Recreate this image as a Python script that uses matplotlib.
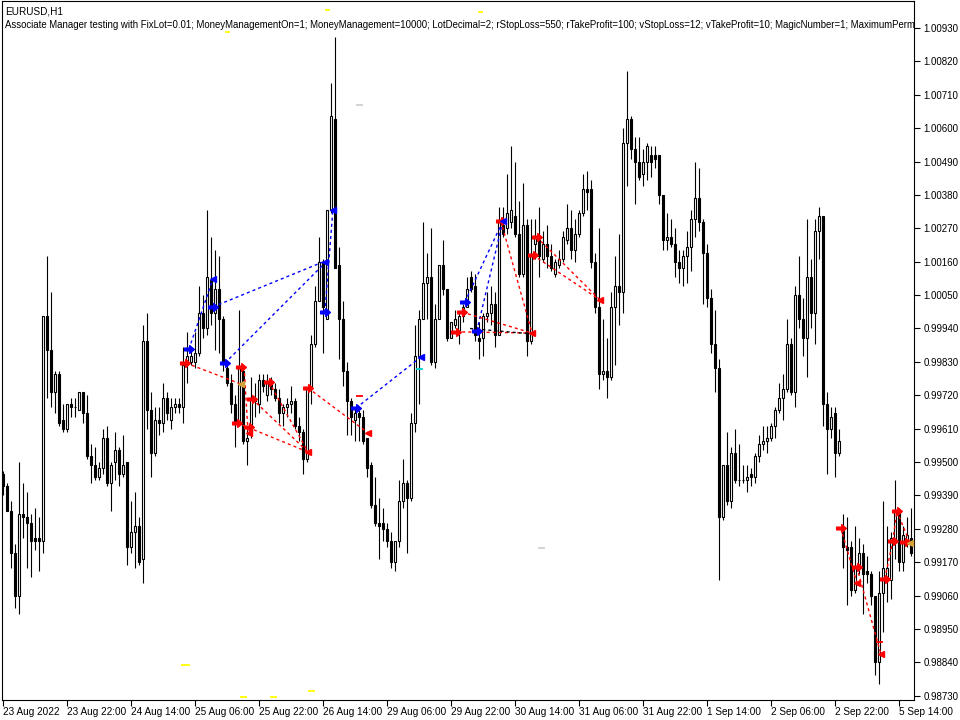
import numpy as np
import matplotlib
matplotlib.use("Agg")
import matplotlib.pyplot as plt
from matplotlib.path import Path

# EURUSD H1 bars, 23 Aug 2022 06:00 -> 5 Sep 2022 (bar index on x)
opens = [
    .9946, .9942, .9934, .9920, .9906, .9933, .9932, .9930, .9925, .9925, .9924, .9998,
    .9987, .9973, .9979, .9964, .9961, .9969, .9968, .9967, .9973, .9966, .9952, .9949,
    .9945, .9948, .9958, .9943, .9950, .9954, .9946, .9950, .9922, .9927, .9929, .9918,
    .9990, .9967, .9953, .9964, .9963, .9971, .9964, .9968, .9969, .9968, .9983, .9983,
    .9983, .9986, .9999, .9994, 1.0010, .9999, 1.0007, .9997, .9981, .9976, .9969, .9963,
    .9980, .9957, .9960, .9971, .9969, .9977, .9972, .9976, .9974, .9971, .9966, .9968,
    .9969, .9970, .9962, .9960, .9951, .9974, .9989, 1.0003, 1.0016, .9997, 1.0033, 1.0063,
    1.0015, .9997, .9980, .9970, .9964, .9966, .9965, .9958, .9949, .9936, .9930, .9930,
    .9928, .9924, .9917, .9924, .9937, .9943, .9938, .9963, .9985, .9997, 1.0009, 1.0011,
    .9983, .9997, 1.0015, 1.0007, .9991, .9995, .9993, .9998, 1.0001, 1.0011, 1.0008, .9991,
    .9991, .9998, .9999, 1.0002, .9992, 1.0028, 1.0027, 1.0029, 1.0031, 1.0025, 1.0012, 1.0028,
    .9990, 1.0022, 1.0023, 1.0017, 1.0022, 1.0018, 1.0012, 1.0015, 1.0017, 1.0023, 1.0027, 1.0020,
    1.0025, 1.0032, 1.0040, 1.0040, 1.0016, 1.0001, .9979, .9980, .9978, 1.0001, 1.0008, 1.0006,
    1.0055, 1.0063, 1.0053, 1.0049, 1.0045, 1.0049, 1.0051, 1.0051, 1.0051, 1.0038, 1.0023, 1.0024,
    1.0022, 1.0016, 1.0014, 1.0018, 1.0021, 1.0030, 1.0037, 1.0029, 1.0019, 1.0004, .9989, .9981,
    .9932, .9949, .9937, .9953, .9944, .9944, .9944, .9946, .9945, .9952, .9956, .9957,
    .9958, .9962, .9967, .9971, .9974, .9989, .9973, 1.0005, .9997, .9991, 1.0011, .9999,
    1.0026, 1.0031, .9969, .9961, .9966, .9953, .9928, .9922, .9922, .9908, .9915, .9920,
    .9914, .9913, .9906, .9884, .9907, .9911, .9911, .9924, .9934, .9917, .9924, .9925,
]
highs = [
    .9947, .9943, .9937, .9923, .9950, .9943, .9940, .9933, .9935, .9932, .9998, 1.0018,
    1.0006, .9980, .9980, .9969, .9969, .9971, .9971, .9973, .9973, .9972, .9956, .9955,
    .9950, .9961, .9962, .9950, .9960, .9955, .9959, .9950, .9937, .9940, .9932, .9995,
    .9999, .9973, .9968, .9968, .9976, .9973, .9971, .9971, .9971, .9988, .9993, .9988,
    .9993, 1.0008, 1.0005, 1.0033, 1.0024, 1.0020, 1.0018, .9998, .9983, .9979, .9972, 1.0000,
    .9982, .9962, .9978, .9976, .9979, .9979, .9979, .9978, .9976, .9974, .9969, .9971,
    .9975, .9971, .9965, .9961, .9974, .9992, 1.0008, 1.0024, 1.0017, 1.0033, 1.0075, 1.0090,
    1.0021, 1.0003, .9983, .9971, .9968, .9967, .9967, .9958, .9950, .9945, .9938, .9935,
    .9930, .9927, .9924, .9944, .9951, .9944, .9966, .9995, 1.0000, 1.0029, 1.0019, 1.0027,
    1.0002, 1.0015, 1.0023, 1.0007, .9996, 1.0000, .9999, 1.0002, 1.0011, 1.0013, 1.0012, .9996,
    .9999, 1.0006, 1.0008, 1.0006, 1.0034, 1.0034, 1.0045, 1.0054, 1.0049, 1.0036, 1.0042, 1.0030,
    1.0030, 1.0030, 1.0034, 1.0026, 1.0028, 1.0022, 1.0017, 1.0020, 1.0026, 1.0035, 1.0033, 1.0030,
    1.0033, 1.0045, 1.0046, 1.0043, 1.0019, 1.0027, .9997, .9991, 1.0006, 1.0018, 1.0025, 1.0060,
    1.0079, 1.0064, 1.0057, 1.0057, 1.0053, 1.0055, 1.0054, 1.0054, 1.0051, 1.0038, 1.0032, 1.0030,
    1.0027, 1.0020, 1.0020, 1.0026, 1.0033, 1.0049, 1.0047, 1.0030, 1.0022, 1.0007, 1.0000, .9984,
    .9949, .9960, .9955, .9961, .9956, .9949, .9949, .9948, .9953, .9959, .9962, .9962,
    .9963, .9968, .9976, .9979, .9997, .9991, 1.0008, 1.0018, 1.0004, 1.0030, 1.0017, 1.0030,
    1.0034, 1.0031, .9973, .9968, .9968, .9961, .9933, .9932, .9924, .9929, .9925, .9923,
    .9919, .9914, .9906, .9914, .9937, .9929, .9927, .9944, .9935, .9929, .9932, .9935,
]
lows = [
    .9939, .9934, .9915, .9902, .9900, .9925, .9915, .9912, .9921, .9914, .9920, .9971,
    .9968, .9966, .9962, .9960, .9960, .9965, .9965, .9967, .9963, .9951, .9943, .9944,
    .9944, .9946, .9942, .9934, .9944, .9942, .9945, .9916, .9920, .9915, .9916, .9910,
    .9961, .9945, .9952, .9959, .9960, .9964, .9961, .9966, .9966, .9963, .9976, .9982,
    .9981, .9985, .9991, .9992, .9995, .9987, .9986, .9980, .9975, .9966, .9955, .9962,
    .9956, .9949, .9958, .9965, .9966, .9973, .9970, .9972, .9970, .9963, .9962, .9965,
    .9966, .9961, .9957, .9946, .9950, .9969, .9988, 1.0003, .9986, .9997, 1.0032, 1.0014,
    .9984, .9975, .9959, .9959, .9957, .9957, .9956, .9945, .9935, .9929, .9918, .9924,
    .9922, .9915, .9914, .9922, .9935, .9920, .9937, .9960, .9969, .9997, .9997, .9982,
    .9981, .9997, 1.0005, .9990, .9991, .9994, .9989, .9996, 1.0001, 1.0006, .9990, .9984,
    .9985, .9996, .9995, .9988, .9992, 1.0024, 1.0025, 1.0027, 1.0024, 1.0011, 1.0011, .9985,
    .9989, 1.0017, 1.0011, 1.0016, 1.0014, 1.0013, 1.0011, 1.0014, 1.0016, 1.0022, 1.0017, 1.0016,
    1.0024, 1.0031, 1.0033, 1.0014, .9999, .9974, .9977, .9971, .9977, .9982, .9995, .9999,
    1.0041, 1.0050, 1.0035, 1.0043, 1.0041, 1.0043, 1.0044, 1.0047, 1.0035, 1.0020, 1.0020, 1.0021,
    1.0011, 1.0009, 1.0008, 1.0009, 1.0013, 1.0024, 1.0026, 1.0002, 1.0001, .9986, .9973, .9911,
    .9931, .9936, .9935, .9943, .9942, .9943, .9940, .9942, .9943, .9950, .9954, .9953,
    .9957, .9958, .9966, .9964, .9973, .9972, .9968, .9994, .9985, .9978, .9994, .9989,
    1.0017, .9962, .9946, .9958, .9945, .9952, .9915, .9903, .9906, .9907, .9913, .9900,
    .9910, .9903, .9880, .9877, .9894, .9904, .9905, .9918, .9914, .9914, .9922, .9919,
]
closes = [
    .9942, .9934, .9920, .9906, .9933, .9932, .9930, .9924, .9924, .9924, .9998, .9987,
    .9973, .9979, .9963, .9961, .9969, .9968, .9968, .9973, .9966, .9952, .9949, .9945,
    .9948, .9958, .9943, .9949, .9954, .9946, .9949, .9922, .9927, .9929, .9917, .9990,
    .9967, .9953, .9964, .9963, .9971, .9966, .9968, .9969, .9968, .9982, .9985, .9985,
    .9986, .9999, .9994, 1.0011, .9999, 1.0007, .9997, .9983, .9976, .9969, .9963, .9981,
    .9957, .9958, .9971, .9970, .9977, .9975, .9976, .9974, .9971, .9966, .9968, .9969,
    .9970, .9962, .9960, .9951, .9974, .9989, 1.0003, 1.0016, 1.0001, 1.0033, 1.0064, 1.0014,
    .9997, .9980, .9970, .9965, .9966, .9965, .9957, .9948, .9936, .9930, .9929, .9928,
    .9924, .9917, .9924, .9937, .9943, .9938, .9963, .9985, .9997, 1.0009, 1.0011, .9983,
    .9997, 1.0015, 1.0007, .9991, .9996, .9997, .9998, 1.0001, 1.0007, 1.0007, .9992, .9990,
    .9998, .9999, 1.0002, .9992, 1.0029, 1.0025, 1.0032, 1.0033, 1.0025, 1.0012, 1.0028, .9990,
    1.0018, 1.0024, 1.0018, 1.0022, 1.0018, 1.0014, 1.0016, 1.0017, 1.0024, 1.0027, 1.0020, 1.0025,
    1.0032, 1.0040, 1.0039, 1.0016, 1.0001, .9979, .9980, .9978, 1.0001, 1.0008, 1.0006, 1.0055,
    1.0063, 1.0053, 1.0049, 1.0044, 1.0049, 1.0054, 1.0049, 1.0050, 1.0038, 1.0023, 1.0024, 1.0022,
    1.0016, 1.0014, 1.0018, 1.0021, 1.0030, 1.0037, 1.0029, 1.0019, 1.0004, .9989, .9981, .9932,
    .9949, .9937, .9953, .9944, .9944, .9944, .9945, .9945, .9952, .9956, .9957, .9958,
    .9962, .9967, .9971, .9974, .9989, .9973, 1.0005, .9997, .9991, 1.0011, .9999, 1.0026,
    1.0031, .9969, .9961, .9965, .9953, .9957, .9922, .9921, .9908, .9915, .9920, .9913,
    .9913, .9906, .9884, .9907, .9915, .9915, .9925, .9934, .9917, .9926, .9926, .9920,
]

time_ticks = [0, 16, 32, 48, 64, 80, 96, 112, 128, 144, 160, 176, 192, 208, 224]
time_labels = ["23 Aug 2022", "23 Aug 22:00", "24 Aug 14:00", "25 Aug 06:00", "25 Aug 22:00",
               "26 Aug 14:00", "29 Aug 06:00", "29 Aug 22:00", "30 Aug 14:00", "31 Aug 06:00",
               "31 Aug 22:00", "1 Sep 14:00", "2 Sep 06:00", "2 Sep 22:00", "5 Sep 14:00"]
price_ticks = [0.98730 + 0.0011 * k for k in range(21)]

# trade connections: bar / price at open and close
blue_x0 = [46.4, 52.4, 55.4, 80.4, 88.2, 115.4, 118.4]
blue_p0 = [.99872, 1.00011, .99826, .99994, .99678, 1.00027, .99932]
blue_x1 = [52.4, 79.9, 79.9, 82.4, 104.4, 124.9, 124.9]
blue_p1 = [1.00103, 1.00159, 1.00149, 1.00330, .99846, 1.00294, 1.00294]

red_x0 = [45.7, 60.2, 58.4, 62.2, 66.4, 76.2, 114.7, 113.2, 124.4, 133.4, 132.4,
          209.4, 213.4, 220.4, 222.4, 223.4]
red_p0 = [.99826, .99813, .99629, .99708, .99764, .99744, .99994, .99929, 1.00294, 1.00241, 1.00182,
          .99283, .99154, .99115, .99240, .99339]
red_x1 = [59.4, 61.2, 76.2, 76.2, 76.2, 91.2, 132.2, 132.2, 132.2, 149.2, 149.2,
          213.4, 219.4, 222.4, 223.4, 226.7]
red_p1 = [.99757, .99596, .99533, .99533, .99533, .99596, .99925, .99925, .99925, 1.00034, 1.00034,
          .99102, .98868, .99240, .99339, .99233]

black_x = [116.7, 132.2]
black_p = [.99940, .99922]

blue_in_x = [46.4, 52.4, 55.4, 80.4, 88.2, 115.4, 118.4]
blue_in_p = [.99872, 1.00011, .99826, .99994, .99678, 1.00027, .99932]
blue_out_x = [52.4, 80.4, 82.4, 104.4, 124.9]
blue_out_p = [1.00103, 1.00159, 1.00330, .99846, 1.00294]
red_in_x = [45.5, 59.4, 58.4, 61.4, 62.2, 66.4, 76.2, 114.7, 113.2, 124.4, 133.4, 132.4,
            209.4, 213.4, 220.4, 222.4, 223.4, 225.4]
red_in_p = [.99826, .99813, .99629, .99616, .99708, .99764, .99744, .99994, .99929, 1.00294,
            1.00241, 1.00182, .99283, .99154, .99115, .99240, .99339, .99236]
red_out_x = [61.4, 76.2, 91.2, 132.2, 149.2, 213.4, 219.4]
red_out_p = [.99596, .99533, .99596, .99925, 1.00034, .99102, .98868]
gold_out_x = [59.4, 226.7]
gold_out_p = [.99757, .99233]

# short level marks (bar from, bar to, price, colour)
mark_x0 = [44.4, 59.2, 66.7, 76.2, 55.4, 80.4, 118.7, 88.2, 133.7, 88.2, 218.2, 103.2]
mark_x1 = [46.7, 60.9, 68.4, 77.9, 56.7, 81.7, 119.9, 89.9, 135.4, 89.9, 219.9, 104.9]
mark_p = [.98831, .98726, .98726, .98746, 1.00917, 1.00989, 1.00983, 1.00676, .99217,
          .99718, .98907, .99807]
mark_c = ["#ffff00", "#ffff00", "#ffff00", "#ffff00", "#ffff00", "#ffff00", "#ffff00",
          "#d0d0d0", "#d0d0d0", "#ff0000", "#ff0000", "#00d0d0"]

plt.rcParams['font.family'] = ["Liberation Sans", "DejaVu Sans"]

fig = plt.figure(figsize=(9.6, 7.2), dpi=100)
ax = fig.add_axes([2 / 960, 20 / 720, 912 / 960, 699 / 720])

o = np.array(opens)
h = np.array(highs)
l = np.array(lows)
c = np.array(closes)
x = np.arange(len(o))

top = np.maximum(h, np.maximum(o, c))
bot = np.minimum(l, np.minimum(o, c))
ax.vlines(x, bot, top, color="black", lw=0.8, zorder=2)

up = c >= o
body_lo = np.minimum(o, c)
body_h = np.abs(c - o)
ax.bar(x[up], body_h[up], bottom=body_lo[up], width=0.5, facecolor="white",
       edgecolor="black", linewidth=0.8, zorder=3)
ax.bar(x[~up], body_h[~up], bottom=body_lo[~up], width=0.5, facecolor="black",
       edgecolor="black", linewidth=0.8, zorder=3)

dash = (0, (2.2, 2.2))
for i in range(len(blue_x0)):
    ax.plot([blue_x0[i], blue_x1[i]], [blue_p0[i], blue_p1[i]], color="#0000ff",
            lw=1.0, ls=dash, zorder=4)
for i in range(len(red_x0)):
    ax.plot([red_x0[i], red_x1[i]], [red_p0[i], red_p1[i]], color="#ff0000",
            lw=1.0, ls=dash, zorder=4)
ax.plot(black_x, black_p, color="black", lw=1.0, ls=dash, zorder=4)

for i in range(len(mark_p)):
    ax.plot([mark_x0[i], mark_x1[i]], [mark_p[i], mark_p[i]], color=mark_c[i],
            lw=1.3, zorder=4, solid_capstyle="butt")

arrow = Path([(-1, -0.28), (0.05, -0.28), (0.05, -0.8), (1, 0), (0.05, 0.8),
              (0.05, 0.28), (-1, 0.28), (-1, -0.28)], closed=True)
ax.plot(blue_in_x, blue_in_p, ls="none", marker=arrow, ms=7, color="#0000ff", zorder=5)
ax.plot(red_in_x, red_in_p, ls="none", marker=arrow, ms=7, color="#ff0000", zorder=5)
ax.plot(blue_out_x, blue_out_p, ls="none", marker="<", ms=5, color="#0000ff", zorder=5)
ax.plot(red_out_x, red_out_p, ls="none", marker="<", ms=5, color="#ff0000", zorder=5)
ax.plot(gold_out_x, gold_out_p, ls="none", marker="<", ms=5, color="#d4a23a", zorder=5)

ax.set_xlim(-0.33, 227.7)
ax.set_ylim(0.98716, 1.01019)

ax.yaxis.tick_right()
ax.set_yticks(price_ticks)
ax.set_yticklabels([f"{v:.5f}" for v in price_ticks])
ax.set_xticks(time_ticks)
ax.set_xticklabels(time_labels, ha="left")
ax.tick_params(axis="y", direction="out", length=4, width=0.8, pad=3, labelsize=7)
ax.tick_params(axis="x", direction="out", length=4, width=0.8, pad=1, labelsize=7.2)
for sp in ax.spines.values():
    sp.set_linewidth(0.8)
    sp.set_color("black")

ax.text(3 / 912, 1 - 10 / 699, "EURUSD,H1", transform=ax.transAxes, fontsize=7.2,
        va="center", ha="left", clip_on=True)
ax.text(3 / 912, 1 - 24 / 699,
        "Associate Manager testing with FixLot=0.01; MoneyManagementOn=1; MoneyManagement=10000; "
        "LotDecimal=2; rStopLoss=550; rTakeProfit=100; vStopLoss=12; vTakeProfit=10; "
        "MagicNumber=1; MaximumPermissibleSpread=3",
        transform=ax.transAxes, fontsize=6.95, va="center", ha="left", clip_on=True)

fig.savefig("out.png", dpi=100)
